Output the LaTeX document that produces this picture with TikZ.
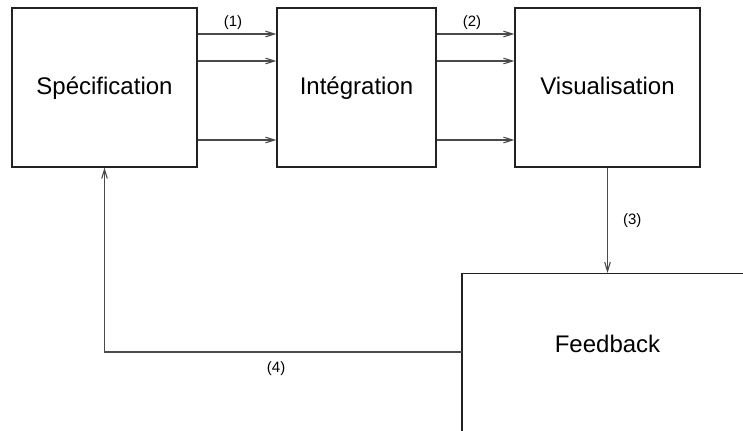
\documentclass[tikz,border=0pt]{standalone}
\usepackage{fontspec}
\setmainfont{Liberation Sans}
\usepackage{tikz}
\usetikzlibrary{arrows.meta}
\usepackage{xcolor}
\definecolor{boxline}{HTML}{222222}
\definecolor{arrowline}{HTML}{4A4A4A}
\tikzset{
  stage/.style={draw=boxline, line width=0.65pt, fill=white, inner sep=0pt,
    minimum width=92.5pt, minimum height=79.5pt, font=\fontsize{12}{14}\selectfont,
    text height=0.72em, text depth=0pt},
  narrow/.style={stage, minimum width=79.5pt},
  flow/.style={-{Straight Barb[length=4.5pt, width=2.8pt]}, line width=0.55pt, draw=arrowline},
  tag/.style={font=\fontsize{7.5}{9}\selectfont, inner sep=1.5pt}
}

\begin{document}
\begin{tikzpicture}[x=0.5pt, y=-0.5pt]
  \useasboundingbox (0,0) rectangle (743,430);
  \clip (0,0) rectangle (743,430);

  \node[stage] (spec) at (104.5,87.5) {Spécification};
  \node[narrow] (integ) at (356.5,87.5) {Intégration};
  \node[stage] (visu) at (607.5,87.5) {Visualisation};
  \node[stage, anchor=north, minimum width=145.5pt, minimum height=110pt] (feed) at (607.5,273) {};
  \node[font=\fontsize{12}{14}\selectfont, text height=0.72em, text depth=0pt] (feedtxt) at (607.5,345) {Feedback};
  \coordinate (feedout) at (462,352);

  % three links between each pair of stages
  \foreach \y in {34,61,140} {
    \draw[flow] (spec.east |- 0,\y) -- (integ.west |- 0,\y);
    \draw[flow] (integ.east |- 0,\y) -- (visu.west |- 0,\y);
  }
  \node[tag] at (233,23) {(1)};
  \node[tag] at (472,23) {(2)};

  \draw[flow] (visu.south) -- node[tag, right=6pt] {(3)} (feed.north);
  \draw[flow] (feedout) -| node[tag, pos=0.26, below=3pt] {(4)} (spec.south);
\end{tikzpicture}
\end{document}
